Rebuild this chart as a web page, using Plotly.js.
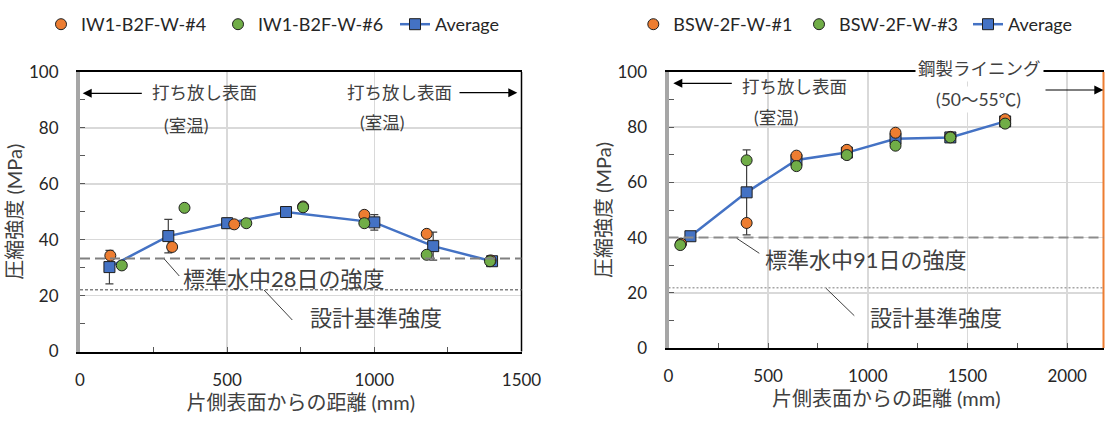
<!DOCTYPE html>
<html>
<head>
<meta charset="utf-8">
<script src="https://cdn.plot.ly/plotly-3.0.1.min.js"></script>
<style>html,body{margin:0;padding:0;background:#fff;}#chart{width:1105px;height:426px;}</style>
</head>
<body>
<div id="chart"></div>
<script>
// ---------- Data (left chart: IW1-B2F-W) ----------
var leftNames = ['IW1-B2F-W-#4', 'IW1-B2F-W-#6', 'Average'];
var leftDist4 = [103, 313, 524, 758, 966, 1178, 1395];
var leftVal4  = [34.3, 37.4, 45.5, 51.9, 48.9, 42.1, 32.6];
var leftDist6 = [142, 355, 565, 758, 966, 1178, 1393];
var leftVal6  = [30.8, 51.4, 45.9, 51.6, 45.9, 34.6, 32.3];
var leftDistAvg = [100, 300, 500, 700, 1000, 1200, 1400];
var leftAvg     = [30.2, 41.3, 45.9, 49.9, 46.2, 37.7, 32.3];
var leftAvgErr  = [6.0, 6.0, 1.8, 0, 2.8, 5.0, 0];
var leftRefValues = [33.3, 22.1];   // 標準水中28日の強度, 設計基準強度

// ---------- Data (right chart: BSW-2F-W) ----------
var rightNames = ['BSW-2F-W-#1', 'BSW-2F-W-#3', 'Average'];
var rightDist1 = [63, 392, 642, 895, 1139, 1414, 1689];
var rightVal1  = [37.8, 45.3, 69.7, 71.8, 78.0, 76.5, 82.9];
var rightDist3 = [59, 392, 642, 895, 1139, 1414, 1689];
var rightVal3  = [37.3, 68.0, 65.9, 69.9, 73.3, 76.3, 81.3];
var rightDistAvg = [110, 392, 642, 895, 1139, 1414, 1689];
var rightAvg     = [40.5, 56.4, 68.1, 70.8, 75.8, 76.3, 82.1];
var rightAvgErr  = [0, 15.4, 0, 0, 0, 0, 0];
var rightRefValues = [40.0, 21.8];  // 標準水中91日の強度, 設計基準強度

// ---------- Tick labels ----------
var yTickVals = [0, 20, 40, 60, 80, 100];
var leftXTicks = [0, 500, 1000, 1500];
var rightXTicks = [0, 500, 1000, 1500, 2000];

var xTitle = '片側表面からの距離 (mm)';
var yTitle = '圧縮強度 (MPa)';

// ---------- Styles ----------
var ORANGE = '#ED7D31', GREEN = '#70AD47', BLUE = '#4472C4';
var OUT = '#262626';
var FONT = 'Lato, "Noto Sans CJK JP", sans-serif';
var W = 1105, H = 426;
function PX(x) { return x / W; }
function PY(y) { return 1 - y / H; }

function pts(x, y, name, color, xa, ya, leg) {
  return {x: x, y: y, name: name, type: 'scatter', mode: 'markers', xaxis: xa, yaxis: ya,
    legend: leg,
    marker: {symbol: 'circle', size: 11, color: color, line: {color: '#1f1f1f', width: 1}}};
}
function avg(x, y, err, name, xa, ya, leg) {
  return {x: x, y: y, name: name, type: 'scatter', mode: 'lines+markers', xaxis: xa, yaxis: ya,
    legend: leg,
    line: {color: BLUE, width: 2.5},
    marker: {symbol: 'square', size: 11, color: BLUE, line: {color: '#1f1f1f', width: 1}},
    error_y: {type: 'data', array: err, visible: true, color: '#404040', thickness: 1.2, width: 4}};
}

var traces = [
  avg(leftDistAvg, leftAvg, leftAvgErr, leftNames[2], 'x', 'y', 'legend3'),
  pts(leftDist4, leftVal4, leftNames[0], ORANGE, 'x', 'y', 'legend'),
  pts(leftDist6, leftVal6, leftNames[1], GREEN, 'x', 'y', 'legend2'),
  avg(rightDistAvg, rightAvg, rightAvgErr, rightNames[2], 'x2', 'y2', 'legend6'),
  pts(rightDist1, rightVal1, rightNames[0], ORANGE, 'x2', 'y2', 'legend4'),
  pts(rightDist3, rightVal3, rightNames[1], GREEN, 'x2', 'y2', 'legend5')
];

function xAxis(domain, range, ticks) {
  return {domain: domain, range: range, tickvals: ticks, ticktext: ticks.map(String),
    showgrid: true, gridcolor: '#d9d9d9', gridwidth: 1.5, zeroline: false,
    showline: true, linecolor: '#000', linewidth: 2, mirror: true,
    ticks: 'inside', ticklen: 5, tickcolor: '#595959', tickwidth: 1,
    minor: {dtick: 250, tick0: 0, ticks: 'inside', ticklen: 5, tickcolor: '#595959', showgrid: false},
    tickfont: {family: FONT, size: 17, color: OUT}, ticklabelstandoff: 12,
    title: {text: xTitle, font: {family: FONT, size: 20, color: '#404040'}, standoff: 0},
    automargin: false, fixedrange: true};
}
function yAxis(domain, anchor) {
  return {domain: domain, range: [0, 100], tickvals: yTickVals, ticktext: yTickVals.map(String), anchor: anchor,
    showgrid: true, gridcolor: '#d9d9d9', gridwidth: 1.5, zeroline: false,
    showline: true, linecolor: '#a6a6a6', linewidth: 4, mirror: false,
    ticks: 'inside', ticklen: 5, tickcolor: '#595959', tickwidth: 1,
    minor: {dtick: 10, tick0: 0, ticks: 'inside', ticklen: 5, tickcolor: '#595959', showgrid: false},
    tickfont: {family: FONT, size: 17, color: OUT}, ticklabelstandoff: 14,
    title: {text: yTitle, font: {family: FONT, size: 20, color: '#404040'}, standoff: 2},
    automargin: false, fixedrange: true};
}

var xDomL = [PX(80), PX(521.5)], yDomL = [PY(351.5), PY(72)];
var xDomR = [PX(668.5), PX(1104)], yDomR = [PY(348), PY(72)];

var shapes = [
  {type: 'line', xref: 'paper', yref: 'paper', x0: xDomL[1], x1: xDomL[1], y0: yDomL[0], y1: yDomL[1], line: {color: '#000', width: 1.5}},
  {type: 'line', xref: 'paper', yref: 'paper', x0: PX(1103.5), x1: PX(1103.5), y0: yDomR[0], y1: yDomR[1], line: {color: ORANGE, width: 2}},
  {type: 'line', xref: 'x domain', yref: 'y', x0: 0, x1: 1, y0: leftRefValues[0], y1: leftRefValues[0], line: {color: '#808080', width: 2, dash: '10px,5px'}},
  {type: 'line', xref: 'x domain', yref: 'y', x0: 0, x1: 1, y0: leftRefValues[1], y1: leftRefValues[1], line: {color: '#808080', width: 1.5, dash: '3px,2px'}},
  {type: 'line', xref: 'x2 domain', yref: 'y2', x0: 0, x1: 1, y0: rightRefValues[0], y1: rightRefValues[0], line: {color: '#8c8c8c', width: 2, dash: '10px,5px'}},
  {type: 'line', xref: 'x2 domain', yref: 'y2', x0: 0, x1: 1, y0: rightRefValues[1], y1: rightRefValues[1], line: {color: '#a6a6a6', width: 1.5, dash: '2px,2px'}},
  {type: 'line', xref: 'paper', yref: 'paper', x0: PX(164.3), y0: PY(259), x1: PX(179.3), y1: PY(276), line: {color: '#404040', width: 1}},
  {type: 'line', xref: 'paper', yref: 'paper', x0: PX(264), y0: PY(290), x1: PX(292.3), y1: PY(320), line: {color: '#404040', width: 1}},
  {type: 'line', xref: 'paper', yref: 'paper', x0: PX(736.7), y0: PY(238.3), x1: PX(759.3), y1: PY(253.3), line: {color: '#404040', width: 1}},
  {type: 'line', xref: 'paper', yref: 'paper', x0: PX(826), y0: PY(288.3), x1: PX(854.3), y1: PY(315.7), line: {color: '#404040', width: 1}}
];

function txt(text, cx, cy, size, bg) {
  return {text: text, xref: 'paper', yref: 'paper', x: PX(cx), y: PY(cy), xanchor: 'center', yanchor: 'middle',
    showarrow: false, font: {family: FONT, size: size, color: '#404040'},
    bgcolor: bg ? '#ffffff' : 'rgba(0,0,0,0)', borderpad: 2};
}
function arrow(hx, hy, tx) {
  return {text: '', xref: 'paper', yref: 'paper', x: PX(hx), y: PY(hy), ax: tx - hx, ay: 0,
    showarrow: true, arrowhead: 2, arrowsize: 1.5, arrowwidth: 1.2, arrowcolor: '#000'};
}

var annotations = [
  arrow(82.7, 93.3, 143.3),
  txt('打ち放し表面', 204.2, 93, 17.5),
  txt('(室温)', 185.8, 125.7, 17.5),
  txt('打ち放し表面', 399.7, 92.7, 17.5),
  txt('(室温)', 381.7, 122.3, 17.5),
  arrow(517.3, 92.7, 458),
  txt('標準水中28日の強度', 284.2, 278.3, 22),
  txt('設計基準強度', 375.8, 317.3, 22),
  arrow(673.3, 83.3, 733.3),
  txt('打ち放し表面', 794, 86.7, 17.5),
  txt('(室温)', 775.8, 117.3, 17.5),
  txt('鋼製ライニング', 979.2, 68.3, 17.5, true),
  txt('(50～55℃)', 978.3, 99.3, 17.5, true),
  arrow(1103.3, 90, 1044),
  txt('標準水中91日の強度', 865.5, 259.3, 22),
  txt('設計基準強度', 935.8, 317.3, 22)
];

function leg(symbolCenterPx) {
  return {orientation: 'h', x: PX(symbolCenterPx - 20), xanchor: 'left', y: PY(6), yanchor: 'top',
    font: {family: FONT, size: 18, color: OUT}, bgcolor: 'rgba(0,0,0,0)', borderwidth: 0};
}

var layout = {
  width: W, height: H,
  margin: {l: 0, r: 0, t: 0, b: 0, pad: 0, autoexpand: false},
  paper_bgcolor: '#fff', plot_bgcolor: '#fff',
  font: {family: FONT, color: OUT},
  showlegend: true,
  xaxis: xAxis(xDomL, [0, 1500], leftXTicks),
  yaxis: yAxis(yDomL, 'x'),
  xaxis2: xAxis(xDomR, [0, 2185], rightXTicks),
  yaxis2: yAxis(yDomR, 'x2'),
  legend: leg(61), legend2: leg(238), legend3: leg(415),
  legend4: leg(653.3), legend5: leg(819), legend6: leg(988),
  shapes: shapes,
  annotations: annotations
};
layout.xaxis2.anchor = 'y2';
layout.xaxis.anchor = 'y';

Plotly.newPlot('chart', traces, layout, {displayModeBar: false, staticPlot: true});
</script>
</body>
</html>
